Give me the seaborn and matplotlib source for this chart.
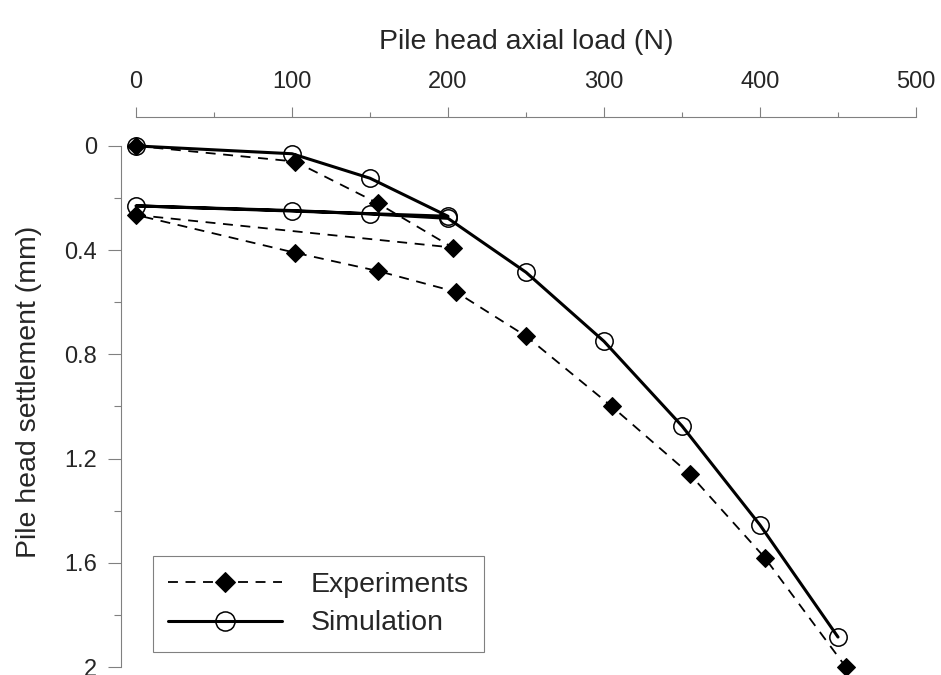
import numpy as np
import pandas as pd
import matplotlib
matplotlib.use("Agg")
import matplotlib.pyplot as plt
import seaborn as sns
from matplotlib.ticker import MultipleLocator, FormatStrFormatter

# Dados (carga em N, recalque em mm)
exp_load = [0, 102, 155, 203, 0, 102, 155, 205, 250, 305, 355, 403, 455]
exp_settlement = [0.0, 0.06, 0.22, 0.39, 0.265, 0.41, 0.48, 0.56, 0.73, 1.0, 1.26, 1.58, 2.0]

sim_load = [0, 100, 150, 200, 0, 100, 150, 200, 250, 300, 350, 400, 450]
sim_settlement = [0.0, 0.03, 0.124, 0.27, 0.23, 0.248, 0.261, 0.278, 0.485, 0.75, 1.075, 1.455, 1.885]

sns.set_style("ticks")
plt.rcParams["font.family"] = ["Liberation Sans", "DejaVu Sans"]

df_exp = pd.DataFrame({"load": exp_load, "settlement": exp_settlement})
df_sim = pd.DataFrame({"load": sim_load, "settlement": sim_settlement})

fig = plt.figure(figsize=(9.41, 6.75), dpi=100)
ax = fig.add_axes([136/941, 8/675, 780/941, 550/675])

spine_color = "#808080"

# Simulação: linha contínua com círculos vazados
sns.lineplot(data=df_sim, x="load", y="settlement", sort=False, estimator=None,
             color="black", linewidth=2.2, marker="o", markersize=12.5,
             markerfacecolor="none", markeredgecolor="black", markeredgewidth=1.1,
             label="Simulation", ax=ax, clip_on=False, zorder=3)

# Experimentos: linha tracejada com losangos
sns.lineplot(data=df_exp, x="load", y="settlement", sort=False, estimator=None,
             color="black", linewidth=1.3, linestyle=(0, (5.5, 4.2)), marker="D",
             markersize=9.5, markerfacecolor="black", markeredgecolor="black",
             label="Experiments", ax=ax, clip_on=False, zorder=4)

ax.set_xlim(0, 500)
ax.set_ylim(2.0, -0.111)

ax.xaxis.tick_top()
ax.xaxis.set_label_position("top")
ax.xaxis.set_major_locator(MultipleLocator(100))
ax.xaxis.set_minor_locator(MultipleLocator(50))
ax.yaxis.set_major_locator(MultipleLocator(0.4))
ax.yaxis.set_minor_locator(MultipleLocator(0.2))
ax.yaxis.set_major_formatter(FormatStrFormatter("%g"))

ax.spines["right"].set_visible(False)
ax.spines["bottom"].set_visible(False)
ax.spines["left"].set_position(("outward", 10.8))
ax.spines["left"].set_bounds(0, 2)
for s in ["top", "left"]:
    ax.spines[s].set_color(spine_color)
    ax.spines[s].set_linewidth(0.8)

ax.tick_params(axis="x", which="major", direction="out", length=7.2, width=0.8,
               color=spine_color, labelsize=17, pad=10, top=True, bottom=False)
ax.tick_params(axis="x", which="minor", direction="out", length=3.6, width=0.8,
               color=spine_color, top=True, bottom=False)
ax.tick_params(axis="y", which="major", direction="out", length=9.4, width=0.8,
               color=spine_color, labelsize=17, pad=8)
ax.tick_params(axis="y", which="minor", direction="out", length=5, width=0.8,
               color=spine_color)

ax.set_xlabel("Pile head axial load (N)", fontsize=20.5, labelpad=16)
ax.set_ylabel("Pile head settlement (mm)", fontsize=20.5, labelpad=16)

handles, labels = ax.get_legend_handles_labels()
order = [labels.index("Experiments"), labels.index("Simulation")]
leg = ax.legend([handles[i] for i in order], [labels[i] for i in order],
                loc="lower left", bbox_to_anchor=(0.0214, 0.027), borderaxespad=0,
                fontsize=20.5, frameon=True, fancybox=False, framealpha=1,
                handlelength=4.0, handletextpad=1.0, borderpad=0.55,
                labelspacing=0.45, numpoints=1, markerscale=1.1)
leg.get_frame().set_edgecolor(spine_color)
leg.get_frame().set_linewidth(0.8)

plt.savefig("out.png", dpi=100)
plt.close()
